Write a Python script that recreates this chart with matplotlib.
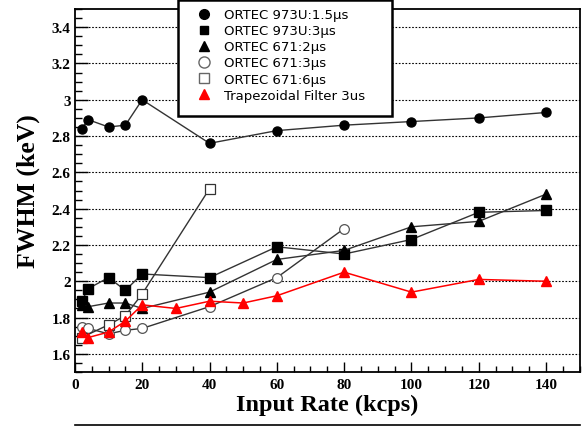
import matplotlib
matplotlib.use("Agg")
import matplotlib.pyplot as plt
from matplotlib.lines import Line2D
from matplotlib.patches import Rectangle
from matplotlib.ticker import MultipleLocator, FormatStrFormatter

# data (x = input rate in kcps, y = FWHM in keV)
x_973u_15 = [2, 4, 10, 15, 20, 40, 60, 80, 100, 120, 140]
y_973u_15 = [2.84, 2.89, 2.85, 2.86, 3.00, 2.76, 2.83, 2.86, 2.88, 2.90, 2.93]

x_973u_3 = [2, 4, 10, 15, 20, 40, 60, 80, 100, 120, 140]
y_973u_3 = [1.89, 1.96, 2.02, 1.95, 2.04, 2.02, 2.19, 2.15, 2.23, 2.38, 2.39]

x_671_2 = [2, 4, 10, 15, 20, 40, 60, 80, 100, 120, 140]
y_671_2 = [1.87, 1.86, 1.88, 1.88, 1.85, 1.94, 2.12, 2.17, 2.30, 2.33, 2.48]

x_671_3 = [2, 4, 10, 15, 20, 40, 60, 80]
y_671_3 = [1.75, 1.74, 1.71, 1.73, 1.74, 1.86, 2.02, 2.29]

x_671_6 = [2, 10, 15, 20, 40]
y_671_6 = [1.69, 1.76, 1.81, 1.93, 2.51]

x_trap = [2, 4, 10, 15, 20, 30, 40, 50, 60, 80, 100, 120, 140]
y_trap = [1.72, 1.69, 1.72, 1.78, 1.87, 1.85, 1.89, 1.88, 1.92, 2.05, 1.94, 2.01, 2.00]

labels = ["ORTEC 973U:1.5μs", "ORTEC 973U:3μs", "ORTEC 671:2μs",
          "ORTEC 671:3μs", "ORTEC 671:6μs", "Trapezoidal Filter 3us"]

fig = plt.figure(figsize=(5.85, 4.27), dpi=100)
ax = fig.add_axes([0.128, 0.1265, 0.863, 0.85])

lc = "#333333"
ax.plot(x_973u_15, y_973u_15, color=lc, lw=1.0, marker="o", ms=6.5, mfc="black", mec="black", zorder=3)
ax.plot(x_973u_3, y_973u_3, color=lc, lw=1.0, marker="s", ms=6.5, mfc="black", mec="black", zorder=3)
ax.plot(x_671_2, y_671_2, color=lc, lw=1.0, marker="^", ms=6.5, mfc="black", mec="black", zorder=3)
ax.plot(x_671_3, y_671_3, color=lc, lw=1.0, marker="o", ms=7, mfc="white", mec="#555555", mew=0.9, zorder=3)
ax.plot(x_671_6, y_671_6, color=lc, lw=1.0, marker="s", ms=7, mfc="white", mec="#333333", mew=0.9, zorder=3)
ax.plot(x_trap, y_trap, color="red", lw=1.1, marker="^", ms=6.5, mfc="red", mec="red", zorder=4)

ax.set_xlim(0, 150)
ax.set_ylim(1.5, 3.5)
ax.set_xticks(range(0, 141, 20))
ax.xaxis.set_minor_locator(MultipleLocator(5))
ax.set_yticks([1.6, 1.8, 2.0, 2.2, 2.4, 2.6, 2.8, 3.0, 3.2, 3.4])
ax.yaxis.set_minor_locator(MultipleLocator(0.05))
ax.yaxis.set_major_formatter(FormatStrFormatter("%g"))

ax.tick_params(which="both", direction="in", top=False, right=False, width=1.0)
ax.tick_params(axis="y", which="major", length=9.5)
ax.tick_params(axis="y", which="minor", length=5)
ax.tick_params(axis="x", which="major", length=7)
ax.tick_params(axis="x", which="minor", length=4)
for lab in ax.get_xticklabels() + ax.get_yticklabels():
    lab.set_family("Liberation Serif")
    lab.set_fontweight("bold")
    lab.set_fontsize(11)
ax.tick_params(axis="x", pad=4)
ax.tick_params(axis="y", pad=3)

ax.yaxis.grid(True, which="major", color="black", linestyle=(0, (1.5, 1.5)), lw=0.8)
for sp in ax.spines.values():
    sp.set_linewidth(1.3)
    sp.set_color("black")

ax.set_xlabel("Input Rate (kcps)", family="Liberation Serif", fontweight="bold", fontsize=17.5, labelpad=2)
ax.set_ylabel("FWHM (keV)", family="Liberation Serif", fontweight="bold", fontsize=18.5, labelpad=8)

handles = [
    Line2D([], [], ls="none", marker="o", ms=7, mfc="black", mec="black"),
    Line2D([], [], ls="none", marker="s", ms=6, mfc="black", mec="black"),
    Line2D([], [], ls="none", marker="^", ms=7, mfc="black", mec="black"),
    Line2D([], [], ls="none", marker="o", ms=8, mfc="white", mec="#666666"),
    Line2D([], [], ls="none", marker="s", ms=7, mfc="white", mec="#666666"),
    Line2D([], [], ls="none", marker="^", ms=7, mfc="red", mec="red"),
]
leg = fig.legend(handles, labels, loc="upper left", bbox_to_anchor=(0.3265, 0.978),
                 frameon=False, borderpad=0, labelspacing=0.23,
                 handlelength=2.0, handletextpad=0.53, borderaxespad=0,
                 prop={"family": "DejaVu Sans", "size": 9.5})
leg.set_zorder(11)

# legend box drawn separately so its size matches the original
box = Rectangle((0.3043, 0.726), 0.3658, 0.272, transform=fig.transFigure,
                facecolor="white", edgecolor="black", lw=1.8, zorder=10)
fig.add_artist(box)

fig.add_artist(Line2D([0.128, 0.991], [0.003, 0.003], color="black", lw=1.2))

fig.savefig("out.png", dpi=100)
